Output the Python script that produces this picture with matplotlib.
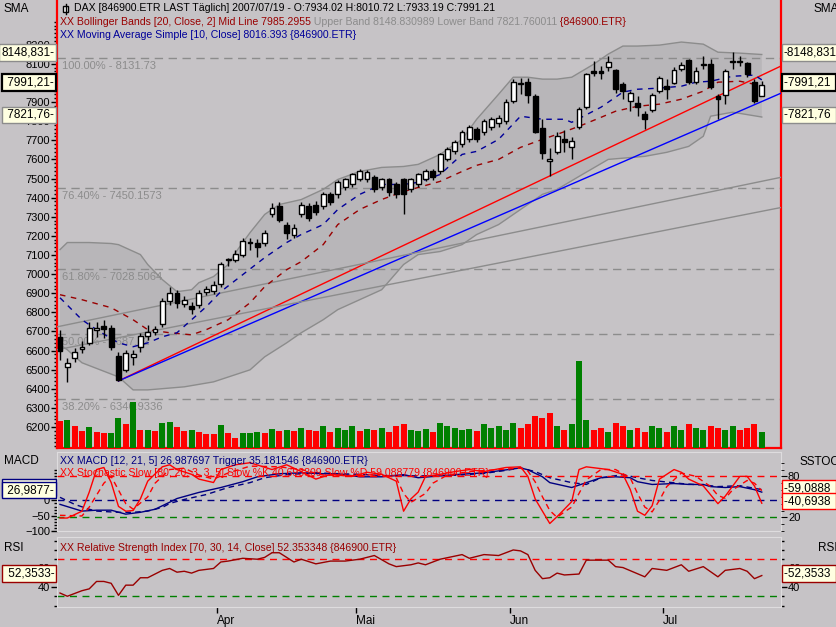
import matplotlib.pyplot as plt
from matplotlib.patches import Rectangle
from matplotlib.lines import Line2D

plt.rcParams['font.family'] = ['Liberation Sans', 'DejaVu Sans']
plt.rcParams['font.size'] = 8

# ---------------- data ----------------
opens = [6672, 6515, 6562, 6609, 6640, 6709, 6730, 6719, 6572, 6499,
         6567, 6620, 6677, 6698, 6740, 6861, 6903, 6845, 6835, 6840,
         6908, 6913, 6950, 7076, 7076, 7102, 7170, 7160, 7160, 7312,
         7354, 7259, 7202, 7312, 7354, 7364, 7354, 7417, 7417, 7453,
         7469, 7495, 7495, 7506, 7453, 7495, 7469, 7495, 7443, 7469,
         7495, 7537, 7537, 7600, 7642, 7679, 7705, 7757, 7742, 7768,
         7790, 7799, 7904, 7994, 8004, 7930, 7763, 7590, 7637, 7705,
         7663, 7768, 7873, 8062, 8062, 8083, 8067, 7993, 7904, 7894,
         7836, 7857, 7957, 7983, 7999, 8072, 8119, 8004, 8093, 8098,
         7930, 7936, 8109, 8109, 8104, 8004, 7934.02]
highs = [6709, 6562, 6614, 6651, 6751, 6751, 6761, 6735, 6593, 6604,
         6604, 6693, 6735, 6730, 6877, 6934, 6919, 6887, 6856, 6919,
         6940, 6966, 7065, 7086, 7128, 7191, 7191, 7181, 7233, 7370,
         7375, 7270, 7260, 7375, 7370, 7380, 7430, 7430, 7490, 7505,
         7530, 7550, 7545, 7520, 7505, 7505, 7480, 7505, 7505, 7530,
         7550, 7550, 7635, 7665, 7700, 7752, 7780, 7770, 7810, 7820,
         7830, 7915, 8020, 8025, 8025, 7941, 7810, 7658, 7742, 7752,
         7716, 7873, 8051, 8114, 8088, 8140, 8072, 8004, 7957, 7930,
         7852, 7946, 8035, 8020, 8083, 8109, 8125, 8083, 8140, 8125,
         7941, 8072, 8161, 8140, 8109, 8020, 8010.72]
lows = [6551, 6436, 6541, 6588, 6630, 6672, 6667, 6604, 6441, 6488,
        6525, 6593, 6656, 6683, 6724, 6840, 6824, 6829, 6793, 6824,
        6893, 6898, 6934, 7044, 7065, 7091, 7128, 7091, 7149, 7300,
        7270, 7181, 7190, 7300, 7280, 7310, 7340, 7360, 7400, 7440,
        7455, 7485, 7480, 7430, 7440, 7410, 7400, 7312, 7430, 7455,
        7485, 7490, 7525, 7590, 7630, 7665, 7690, 7690, 7730, 7755,
        7770, 7784, 7894, 7941, 7894, 7736, 7600, 7511, 7626, 7637,
        7600, 7757, 7862, 8035, 8020, 8062, 7950, 7915, 7852, 7826,
        7757, 7847, 7946, 7915, 7993, 8062, 7993, 7993, 8072, 7967,
        7810, 7889, 8072, 8088, 8030, 7894, 7933.19]
closes = [6599, 6536, 6593, 6619, 6719, 6719, 6714, 6620, 6446, 6588,
          6583, 6677, 6698, 6714, 6861, 6903, 6850, 6866, 6819, 6903,
          6924, 6945, 7055, 7081, 7107, 7175, 7160, 7144, 7217, 7348,
          7285, 7217, 7243, 7364, 7296, 7327, 7417, 7375, 7480, 7495,
          7521, 7537, 7532, 7443, 7495, 7427, 7417, 7417, 7495, 7521,
          7537, 7506, 7626, 7653, 7689, 7742, 7768, 7705, 7799, 7810,
          7815, 7899, 8004, 7998, 7936, 7742, 7632, 7600, 7721, 7689,
          7695, 7862, 8046, 8051, 8051, 8109, 7967, 7957, 7946, 7873,
          7810, 7936, 8025, 7967, 8067, 8093, 8004, 8062, 8098, 7978,
          7915, 8062, 8114, 8114, 8046, 7904, 7991.21]

volume = [27, 28, 22, 17, 21, 16, 15, 15, 30, 24, 46, 18, 18, 17, 25, 26, 21,
          17, 18, 16, 14, 14, 23, 15, 10, 15, 15, 16, 15, 19, 17, 18, 17,
          20, 18, 17, 22, 16, 20, 18, 22, 17, 19,
          18, 20, 16, 22, 24, 18, 17, 19, 16, 25,
          22, 20, 18, 19, 17, 24, 20, 22, 18, 25,
          20, 24, 32, 30, 35, 22, 18, 24, 87, 28,
          18, 20, 16, 25, 22, 18, 20, 16, 22, 20,
          16, 22, 18, 24, 20, 18, 22, 20, 18, 22, 18, 20, 24, 16]
volume_up = [0, 1, 0, 0, 1, 0, 0, 1, 1, 0, 1, 0, 1, 0, 1, 1, 0,
             0, 1, 0, 0, 0, 1, 0, 0, 1, 1, 1, 0, 1, 0, 1, 0,
             1, 0, 0, 1, 0, 1, 1, 1, 0, 1,
             0, 1, 0, 0, 0, 1, 1, 1, 0, 1,
             1, 1, 1, 1, 0, 1, 1, 1, 1, 1,
             0, 0, 0, 0, 0, 1, 0, 1, 1, 1,
             0, 0, 1, 0, 0, 1, 0, 0, 1, 1,
             0, 1, 1, 0, 1, 1, 0, 0, 1, 1, 0, 0, 0, 1]

month_names = ['Apr', 'Mai', 'Jun', 'Jul']
month_first_bar = [22, 41, 62, 83]

# Bollinger bands (20, 2) and SMA(10), vertices
bb_up_bar = [0, 1, 4, 7, 8, 11, 12, 14, 16, 18, 19, 21, 23, 24, 26, 28, 30, 33,
             36, 38, 41, 44, 47, 49, 52, 55, 57, 60, 62, 64, 66, 68, 70, 73,
             75, 77, 79, 82, 85, 88, 90, 93, 96]
bb_up = [7128, 7165, 7165, 7160, 7154, 7102, 7050, 6971, 6908, 6918, 6955,
         6987, 7050, 7112, 7217, 7312, 7364, 7390, 7443, 7495, 7537, 7558,
         7563, 7574, 7626, 7705, 7810, 7941, 8030, 8030, 8020, 8020, 8030,
         8098, 8151, 8193, 8193, 8198, 8214, 8203, 8161, 8156, 8148.83]
bb_lo_bar = [0, 1, 3, 8, 10, 12, 17, 21, 26, 28, 31, 33, 36, 38, 41, 44, 47,
             49, 52, 55, 57, 60, 63, 66, 68, 71, 75, 80, 83, 86, 88, 89, 92, 96]
bb_lo = [6630, 6604, 6536, 6462, 6394, 6394, 6410, 6436, 6499, 6567, 6640,
         6693, 6761, 6814, 6866, 6918, 7050, 7102, 7118, 7154, 7207, 7259,
         7338, 7417, 7443, 7511, 7600, 7616, 7637, 7668, 7721, 7826, 7847,
         7821.76]
bb_mid_bar = [0, 3, 7, 10, 12, 15, 18, 20, 23, 26, 28, 31, 33, 36, 38, 41, 44,
              47, 49, 52, 55, 57, 60, 63, 66, 68, 71, 74, 76, 79, 82, 85, 88,
              90, 93, 96]
bb_mid = [6892, 6866, 6824, 6761, 6709, 6693, 6682, 6709, 6761, 6850, 6934,
          7023, 7065, 7154, 7259, 7338, 7390, 7432, 7453, 7485, 7537, 7569,
          7600, 7663, 7705, 7731, 7773, 7820, 7852, 7878, 7889, 7915, 7957,
          8004, 8009, 7985.30]
sma_bar = [0, 3, 5, 8, 10, 12, 14, 16, 18, 20, 22, 25, 28, 31, 33, 36, 38, 41,
           44, 47, 49, 52, 55, 57, 60, 63, 66, 69, 70, 74, 77, 79, 82, 85, 87,
           89, 92, 95, 96]
sma = [6876, 6761, 6709, 6640, 6620, 6640, 6672, 6693, 6761, 6829, 6908,
       6997, 7086, 7165, 7207, 7259, 7338, 7417, 7469, 7469, 7480, 7521,
       7626, 7642, 7705, 7826, 7810, 7810, 7794, 7873, 7952, 7967, 7973,
       7983, 8004, 8009, 8035, 8041, 8016.39]

# trend lines: (bar, price) anchors
trend_lines = [
    ((8, 6441), (98.6, 8088), '#ff0000'),
    ((8, 6441), (98.6, 7946), '#0000ff'),
    ((-0.4, 6724), (98.6, 7506), '#8c8c8c'),
    ((-0.4, 6604), (98.6, 7348), '#8c8c8c'),
]
fib_pct = ['100.00%', '76.40%', '61.80%', '50.00%', '38.20%']
fib_val = [8131.73, 7450.1573, 7028.5064, 6687.72, 6346.9336]

# MACD (12, 21, 5)
macd_bar = [0, 3, 5, 7, 9, 11, 13, 15, 16, 19, 22, 25, 27, 30, 33, 36, 38, 41,
            44, 47, 49, 54, 58, 63, 64, 66, 67, 70, 72, 74, 76, 78, 79, 81, 84,
            86, 88, 89, 91, 93, 95, 96]
macd = [-13, -35, -32, -32, -45, -39, -29, -6, 6, 26, 42, 61, 77, 87, 90, 87,
        87, 77, 77, 84, 74, 84, 90, 106, 100, 77, 58, 42, 58, 74, 77, 74, 61,
        52, 55, 52, 52, 45, 42, 45, 35, 26.99]
trig_bar = [0, 2, 4, 5, 8, 10, 12, 14, 15, 17, 20, 23, 26, 28, 31, 35, 37, 41,
            44, 47, 49, 54, 58, 61, 63, 65, 67, 70, 72, 74, 77, 79, 81, 85, 89,
            90, 93, 96]
trigger = [10, -13, -29, -35, -39, -39, -35, -23, -10, 3, 19, 42, 58, 74, 84,
           90, 88, 85, 81, 81, 80, 82, 88, 98, 106, 94, 74, 58, 52, 74, 84, 74,
           65, 55, 48, 45, 48, 35.18]

# Stochastic slow
k_bar = [0, 1, 3, 4, 5, 6, 7, 8, 9, 10, 11, 12, 14, 15, 16, 18, 19, 21, 22, 24,
         26, 29, 31, 33, 35, 37, 40, 42, 44, 46, 47, 48, 49, 50, 52, 54, 56,
         58, 61, 63, 64, 65, 67, 68, 70, 71, 72, 75, 77, 78, 79, 80, 81, 82,
         84, 85, 86, 88, 90, 91, 93, 94, 95, 96]
stoch_k = [19, 19, 29, 57, 90, 93, 71, 36, 29, 30, 47, 73, 94, 97, 90, 83, 76,
           71, 90, 97, 100, 90, 97, 87, 76, 83, 80, 86, 83, 73, 29, 47, 57, 80,
           83, 87, 90, 87, 93, 94, 80, 47, 11, 21, 43, 90, 94, 90, 83, 61, 29,
           23, 37, 76, 90, 86, 76, 66, 40, 51, 80, 80, 66, 40.69]
d_bar = [0, 3, 4, 6, 7, 8, 9, 10, 12, 13, 15, 17, 19, 21, 23, 26, 30, 33, 36,
         40, 44, 46, 47, 48, 50, 51, 53, 56, 60, 63, 64, 65, 66, 67, 68, 69,
         70, 71, 72, 74, 76, 78, 79, 80, 81, 82, 83, 85, 87, 89, 90, 91, 92,
         94, 95, 96]
stoch_d = [23, 22, 35, 70, 80, 60, 40, 32, 50, 70, 90, 92, 82, 76, 85, 95, 94,
           90, 82, 81, 83, 78, 55, 42, 55, 70, 82, 87, 90, 92, 88, 72, 50, 30,
           20, 28, 35, 55, 75, 90, 90, 78, 55, 35, 28, 45, 65, 85, 80, 65, 52,
           48, 60, 74, 70, 59.09]

# RSI (14)
rsi_bar = [0, 1, 3, 4, 5, 6, 7, 8, 9, 10, 11, 12, 14, 15, 16, 17, 18, 19, 21,
           22, 23, 25, 27, 28, 29, 30, 32, 33, 35, 37, 39, 41, 43, 45, 46, 48,
           49, 50, 52, 55, 56, 58, 60, 62, 63, 64, 65, 66, 67, 68, 69, 71, 72,
           75, 76, 77, 80, 81, 83, 85, 86, 88, 90, 91, 93, 94, 95, 96]
rsi = [33.5, 30, 36, 38, 46, 46, 44, 31, 42, 42, 50, 50, 58, 60, 56, 57, 55,
       58, 60, 67, 68, 71, 70, 72, 77, 77, 67, 70, 65, 68, 68, 70, 74, 65, 62,
       64, 66, 64, 70, 75, 71, 75, 74, 80, 79, 75, 58, 49, 50, 55, 53, 54, 69,
       69, 62, 61, 51, 60, 58, 64, 57, 62, 51, 58, 60, 57, 49, 52.35]

# ---------------- layout helpers ----------------
W, H = 836, 627
BG = '#c6c3c6'
BAND = '#b8b6b9'
EDGE = '#8c8c8c'
PANEL_EDGE = '#dedcde'
NAVY = '#000080'
DRED = '#990000'


def rect(x0, top, x1, bottom):
    return [x0 / W, 1 - bottom / H, (x1 - x0) / W, (bottom - top) / H]


fig = plt.figure(figsize=(W / 100, H / 100), dpi=100, facecolor=BG)
XLIM = (-0.41, 98.63)

ax = fig.add_axes(rect(57, 0, 781, 448))
ax_macd = fig.add_axes(rect(57, 452, 781, 531))
ax_rsi = fig.add_axes(rect(57, 537, 781, 607))
ax_st = ax_macd.twinx()

for a in (ax, ax_macd, ax_rsi):
    a.set_facecolor(BG)
    a.set_xlim(*XLIM)
    a.tick_params(axis='x', bottom=False, labelbottom=False)
    a.tick_params(axis='y', which='both', left=True, right=True,
                  labelleft=True, labelright=True, colors='black',
                  labelsize=8, pad=1)
    a.tick_params(axis='y', which='major', length=4, width=1)
    a.tick_params(axis='y', which='minor', length=2, width=1)

# ---------------- main price panel ----------------
ax.set_ylim(6090, 8434)
ax.set_yticks(range(6200, 8201, 100))
ax.set_yticks(range(6100, 8340, 20), minor=True)
for s in ('left', 'right', 'bottom'):
    ax.spines[s].set_color('#ff0000')
    ax.spines[s].set_linewidth(1.6)
ax.spines['top'].set_visible(False)

band_x = bb_up_bar + bb_lo_bar[::-1]
band_y = bb_up + bb_lo[::-1]
ax.fill(band_x, band_y, facecolor=BAND, edgecolor='none', zorder=1)
ax.plot(bb_up_bar, bb_up, color=EDGE, lw=1, zorder=2)
ax.plot(bb_lo_bar, bb_lo, color=EDGE, lw=1, zorder=2)

for pct, val in zip(fib_pct, fib_val):
    ax.axhline(val, color=EDGE, lw=1, ls=(0, (6, 4)), zorder=2)
    ax.text(0.3, val - 18, f'{pct} - {val}', color=EDGE, fontsize=8,
            va='top', ha='left', zorder=2)

for (x0, y0), (x1, y1), col in trend_lines:
    ax.plot([x0, x1], [y0, y1], color=col, lw=1, zorder=3)

ax.plot(bb_mid_bar, bb_mid, color=DRED, lw=1, ls=(0, (4, 4)), zorder=3)
ax.plot(sma_bar, sma, color='#000099', lw=1, ls=(0, (4, 4)), zorder=3)

idx = list(range(len(closes)))
ax.vlines(idx, lows, highs, color='black', lw=1, zorder=4)
body_h = [c - o if abs(c - o) > 4 else 4 for o, c in zip(opens, closes)]
body_c = ['white' if c >= o else 'black' for o, c in zip(opens, closes)]
ax.bar(idx, body_h, bottom=opens, width=0.66, color=body_c,
       edgecolor='black', lw=1, zorder=5)

axv = ax.twinx()
axv.set_xlim(*XLIM)
axv.set_ylim(0, 448)
axv.axis('off')
axv.bar(idx, volume, width=0.82,
        color=['#008000' if u else '#ff0000' for u in volume_up], zorder=6)


def tag(axis, value, text, side, ec, lw=1.0):
    kw = dict(boxstyle='square,pad=0.18', fc='#ffffe1', ec=ec, lw=lw)
    text = text.rjust(8) if side == 'left' else text.ljust(8)
    if side == 'left':
        axis.annotate(text + '-', xy=(0, value),
                      xycoords=axis.get_yaxis_transform(), xytext=(-2, 1.5),
                      textcoords='offset points', ha='right', va='center',
                      fontsize=8.5, bbox=kw, annotation_clip=False, zorder=10)
    else:
        axis.annotate('-' + text, xy=(1, value),
                      xycoords=axis.get_yaxis_transform(), xytext=(2, 1.5),
                      textcoords='offset points', ha='left', va='center',
                      fontsize=8.5, bbox=kw, annotation_clip=False, zorder=10)


for side in ('left', 'right'):
    tag(ax, 8148.831, '8148,831', side, '#8c8c8c')
    tag(ax, closes[-1], '7991,21', side, 'black', 1.6)
    tag(ax, 7821.76, '7821,76', side, '#8c8c8c')

# ---------------- MACD + slow stochastic ----------------
ax_macd.set_ylim(-97, 158)
ax_macd.set_yticks([-100, -50, 0, 50])
ax_macd.set_yticks(range(-100, 101, 10), minor=True)
ax_macd.tick_params(axis='y', which='both', right=False, labelright=False)
for s in ax_macd.spines.values():
    s.set_color(PANEL_EDGE)
ax_st.set_ylim(2.9, 115.7)
ax_st.set_yticks([20, 80])
ax_st.set_yticks(range(0, 101, 10), minor=True)
ax_st.tick_params(axis='y', which='major', length=4, labelsize=8, pad=1)
ax_st.tick_params(axis='y', which='minor', length=2)
for s in ax_st.spines.values():
    s.set_visible(False)

ax_macd.axhline(0, color=NAVY, lw=1, ls=(0, (5, 4)))
ax_st.axhline(80, color='#ff0000', lw=1, ls=(0, (5, 4)))
ax_st.axhline(20, color='#008000', lw=1, ls=(0, (5, 4)))
ax_macd.plot(macd_bar, macd, color=NAVY, lw=1)
ax_macd.plot(trig_bar, trigger, color=NAVY, lw=1, ls=(0, (4, 3)))
ax_st.plot(k_bar, stoch_k, color='#ff0000', lw=1)
ax_st.plot(d_bar, stoch_d, color='#ff0000', lw=1, ls=(0, (4, 3)))

tag(ax_macd, 35.18, '35,1815', 'left', NAVY)
tag(ax_macd, 26.99, '26,9877', 'left', NAVY)
tag(ax_st, 59.0888, '59,0888', 'right', '#ff0000')
tag(ax_st, 40.6938, '40,6938', 'right', '#ff0000')

# ---------------- RSI ----------------
ax_rsi.set_ylim(18.4, 94)
ax_rsi.set_yticks([40, 60])
ax_rsi.set_yticks(range(20, 91, 10), minor=True)
for s in ax_rsi.spines.values():
    s.set_color(PANEL_EDGE)
ax_rsi.axhline(70, color='#ff0000', lw=1, ls=(0, (5, 4)))
ax_rsi.axhline(30, color='#008000', lw=1, ls=(0, (5, 4)))
ax_rsi.plot(rsi_bar, rsi, color=DRED, lw=1)
for side in ('left', 'right'):
    tag(ax_rsi, rsi[-1], '52,3533', side, DRED)

ax_rsi.tick_params(axis='x', bottom=True, labelbottom=True, length=4,
                   width=1, pad=2, labelsize=8.5)
ax_rsi.set_xticks([b - 0.5 for b in month_first_bar])
ax_rsi.set_xticklabels(month_names, ha='left')

# ---------------- texts ----------------
def ftext(x, y, s, **kw):
    return fig.text(x / W, 1 - y / H, s, va='center', **kw)


def chain(prev, s, color, size):
    return ax.annotate(s, xy=(1, 0), xycoords=prev, va='bottom', ha='left',
                       color=color, fontsize=size, annotation_clip=False)


ftext(4, 9, 'SMA', fontsize=8.5)
ftext(813, 9, 'SMA', fontsize=8.5)
ftext(4, 461, 'MACD', fontsize=8.5)
ftext(800, 462, 'SSTOC', fontsize=8.5)
ftext(4, 548, 'RSI', fontsize=8.5)
ftext(818, 548, 'RSI', fontsize=8.5)

fig.add_artist(Rectangle((63 / W, 1 - 12 / H), 5 / W, 6 / H, fc='white',
                         ec='black', lw=1, transform=fig.transFigure))
fig.add_artist(Line2D([65.5 / W, 65.5 / W], [1 - 14 / H, 1 - 4 / H],
                      color='black', lw=1, transform=fig.transFigure))
ftext(74, 8, 'DAX [846900.ETR LAST Täglich] 2007/07/19 - O:7934.02 '
      'H:8010.72 L:7933.19 C:7991.21', fontsize=7.6, color='black')
t = ftext(60, 22, 'XX Bollinger Bands [20, Close, 2] Mid Line 7985.2955',
          fontsize=7.6, color=DRED)
t = chain(t, ' Upper Band 8148.830989 Lower Band 7821.760011', '#8c8c8c', 7.6)
chain(t, ' {846900.ETR}', DRED, 7.6)
ftext(60, 35, 'XX Moving Average Simple [10, Close] 8016.393 {846900.ETR}',
      fontsize=7.6, color='#000099')
ftext(60, 461, 'XX MACD [12, 21, 5] 26.987697 Trigger 35.181546 '
      '{846900.ETR}', fontsize=7.6, color=NAVY)
ftext(60, 473, 'XX Stochastic Slow [80, 20, 3, 3, 5] Slow %K 40.693809 '
      'Slow %D 59.088779 {846900.ETR}', fontsize=7.6, color='#ff0000')
ftext(60, 548, 'XX Relative Strength Index [70, 30, 14, Close] 52.353348 '
      '{846900.ETR}', fontsize=7.6, color=DRED)

fig.savefig('out.png', dpi=100, facecolor=BG)
